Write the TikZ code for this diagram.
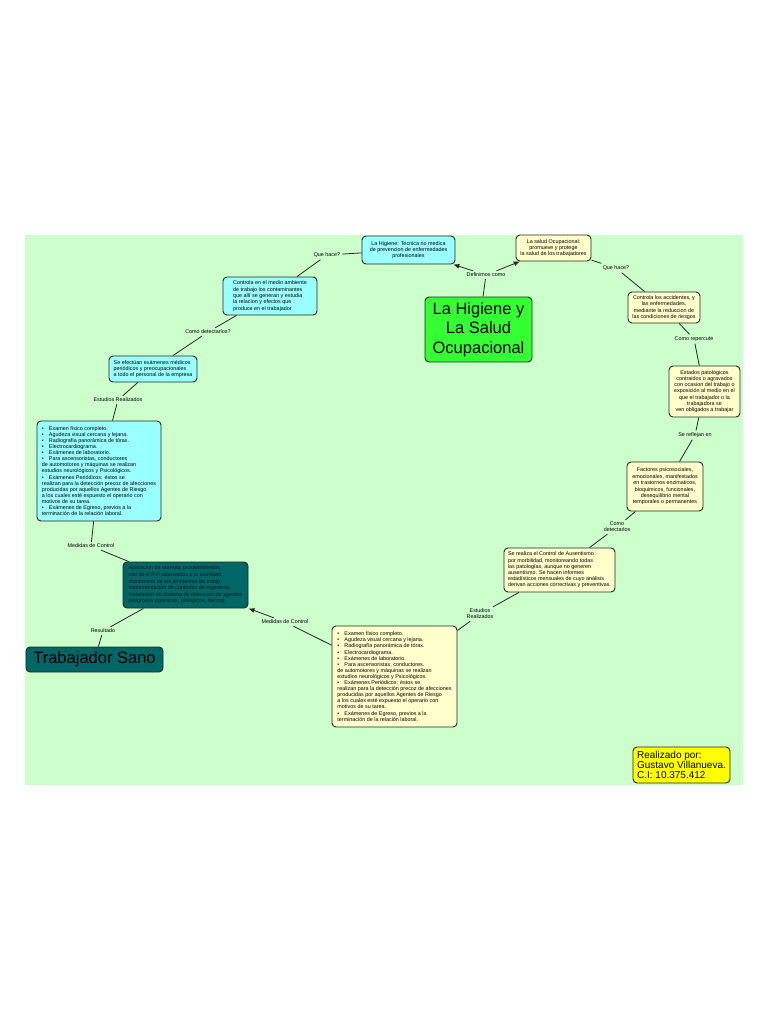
\documentclass[tikz,border=0pt]{standalone}
\usepackage{fontspec}
\setmainfont{Liberation Sans}
\usepackage{tikz}
\usetikzlibrary{arrows.meta}
\definecolor{fondo}{RGB}{204,255,204}
\definecolor{celeste}{RGB}{153,255,255}
\definecolor{crema}{RGB}{255,255,204}
\definecolor{verdec}{RGB}{51,255,51}
\definecolor{petroleo}{RGB}{0,102,102}
\definecolor{amarillo}{RGB}{255,255,0}
\newcommand{\itm}{\makebox[7pt][l]{\textbullet}}

\begin{document}
\begin{tikzpicture}[x=1pt,y=-1pt,
    caja/.style={draw=black!85,line width=0.9pt,rounded corners=4pt,inner sep=2pt,
      font=\fontsize{5.4}{6.4}\selectfont},
    lista/.style={caja,align=left,font=\fontsize{5.4}{6.1}\selectfont},
    frase/.style={font=\fontsize{5.4}{6}\selectfont,inner sep=2pt,align=center},
    enlace/.style={line width=0.8pt,black!85},
    flecha/.style={enlace,-{Latex[length=6pt,width=5pt]}}]
        \useasboundingbox (0,0) rectangle (768,1021);
        \fill[white] (0,0) rectangle (768,1021);
        \fill[fondo] (25,235) rectangle (743,785);
        % conceptos
        \node[caja,fill=verdec,minimum width=107pt,minimum height=65pt,align=center,
          font=\fontsize{16.5}{19.5}\selectfont] (central) at (478.5,329.5) {La Higiene y\\La Salud\\Ocupacional};
        \node[caja,fill=celeste,minimum width=93pt,minimum height=28pt,align=center] (higiene) at (408.5,250)
          {La Higiene: Tecnica no medica\\de prevencion de enfermedades\\profesionales};
        \node[caja,fill=crema,minimum width=75pt,minimum height=26pt,align=center] (salud) at (553.5,248)
          {La salud Ocupacional:\\promueve y protege\\la salud de los trabajadores};
        \node[caja,fill=celeste,minimum width=94pt,minimum height=38pt,align=left] (controlaA) at (270,296)
          {Controla en el medio ambiente\\de trabajo los contaminantes\\que allí se generan y estudia\\la relacion y efectos que\\produce en el trabajador};
        \node[caja,fill=celeste,minimum width=88pt,minimum height=26pt,align=left] (examenes) at (153,369)
          {Se efectúan exámenes médicos\\periódicos y preocupacionales\\a todo el personal de la empresa};
        \node[lista,fill=celeste,minimum width=124pt,minimum height=100pt] (listaA) at (99,471)
          {\itm Examen físico completo.\\
           \itm Agudeza visual cercana y lejana.\\
           \itm Radiografía panorámica de tórax.\\
           \itm Electrocardiograma.\\
           \itm Exámenes de laboratorio.\\
           \itm Para ascensoristas, conductores\\
           de automotores y máquinas se realizan\\
           estudios neurológicos y Psicológicos.\\
           \itm Exámenes Periódicos: éstos se\\
           realizan para la detección precoz de afecciones\\
           producidas por aquellos Agentes de Riesgo\\
           a los cuales esté expuesto el operario con\\
           motivos de su tarea.\\
           \itm Exámenes de Egreso, previos a la\\
           terminación de la relación laboral.};
        \node[caja,fill=petroleo,text=black!90,minimum width=125pt,minimum height=46pt,align=left,
          font=\fontsize{5.4}{6.6}\selectfont] (medidas) at (185.5,585)
          {Aplicacion de normas, procedimientos,\\uso de E.P.P. adecuados a la actividad,\\monitoreos de los ambientes de trabjo,\\implementacion de controles de ingenieria.\\Instalacion de sistema de deteccion de agentes\\peligrosos (quimicos, biologicos, fisicos)};
        \node[caja,fill=petroleo,minimum width=137pt,minimum height=25pt,
          font=\fontsize{16.5}{19}\selectfont] (sano) at (94.5,659.5) {Trabajador Sano};
        \node[lista,fill=crema,minimum width=125pt,minimum height=101pt] (listaB) at (394.5,676.5)
          {\itm Examen físico completo.\\
           \itm Agudeza visual cercana y lejana.\\
           \itm Radiografía panorámica de tórax.\\
           \itm Electrocardiograma.\\
           \itm Exámenes de laboratorio.\\
           \itm Para ascensoristas, conductores.\\
           de automotores y máquinas se realizan\\
           estudios neurológicos y Psicológicos.\\
           \itm Exámenes Periódicos: éstos se\\
           realizan para la detección precoz de afecciones\\
           producidas por aquellos Agentes de Riesgo\\
           a los cuales esté expuesto el operario con\\
           motivos de su tarea.\\
           \itm Exámenes de Egreso, previos a la\\
           terminación de la relación laboral.};
        \node[caja,fill=crema,minimum width=111pt,minimum height=44pt,align=left,
          font=\fontsize{5.4}{6.2}\selectfont] (ausentismo) at (559.5,570)
          {Se realiza el Control de Ausentismo\\por morbilidad, monitoreando todas\\las patologías, aunque no generen\\ausentismo. Se hacen informes\\estadísticos mensuales de cuyo análisis\\derivan acciones correctivas y preventivas.};
        \node[caja,fill=crema,minimum width=76pt,minimum height=49pt,align=center] (factores) at (665,486.5)
          {Factores psicosociales,\\emocionales, manifestados\\en trastornos enzimaticos,\\bioquimicos, funcionales,\\desequilibrio mental\\temporales o permanentes};
        \node[caja,fill=crema,minimum width=71pt,minimum height=51pt,align=center,
          font=\fontsize{5.4}{6.2}\selectfont] (estados) at (704.5,391.5)
          {Estados patológicos\\contraidos o agravados\\con ocasion del trabajo o\\exposición al medio en el\\que el trabajador o la\\trabajadora se\\ven obligados a trabajar};
        \node[caja,fill=crema,minimum width=72pt,minimum height=31pt,align=center] (controlaB) at (664,307.5)
          {Controla los accidentes, y\\las enfermedades,\\mediante la reduccion de\\las condiciones de riesgos};
        \node[caja,fill=amarillo,minimum width=97pt,minimum height=36pt,align=left,
          font=\fontsize{10}{10.4}\selectfont] (autor) at (681.5,765)
          {Realizado por:\\Gustavo Villanueva.\\C.I: 10.375.412};
        % frases de enlace
        \node[frase] (definimos) at (486,275) {Definimos como};
        \node[frase] (quehaceA) at (327,255) {Que hace?};
        \node[frase] (quehaceB) at (616,268) {Que hace?};
        \node[frase] (detectarA) at (208,332) {Como detectarlos?};
        \node[frase] (estudiosA) at (118,400) {Estudios Realizados};
        \node[frase] (medidasA) at (91,546) {Medidas de Control};
        \node[frase] (resultado) at (103,631) {Resultado};
        \node[frase] (medidasB) at (285,622) {Medidas de Control};
        \node[frase] (estudiosB) at (480,614) {Estudios\\Realizados};
        \node[frase] (detectarB) at (617,527) {Como\\detectarlos};
        \node[frase] (reflejan) at (695,435) {Se reflejan en};
        \node[frase] (repercute) at (694,339) {Como repercute};
        % conexiones
        \draw[enlace] (central) -- (definimos);
        \draw[flecha] (definimos) -- (higiene);
        \draw[flecha] (definimos) -- (salud);
        \draw[enlace] (higiene) -- (quehaceA);
        \draw[enlace] (quehaceA) -- (controlaA);
        \draw[enlace] (controlaA) -- (detectarA);
        \draw[enlace] (detectarA) -- (examenes);
        \draw[enlace] (examenes) -- (estudiosA);
        \draw[enlace] (estudiosA) -- (listaA);
        \draw[enlace] (listaA) -- (medidasA);
        \draw[enlace] (medidasA) -- (medidas);
        \draw[enlace] (medidas) -- (resultado);
        \draw[enlace] (resultado) -- (sano);
        \draw[enlace] (salud) -- (quehaceB);
        \draw[enlace] (quehaceB) -- (controlaB);
        \draw[enlace] (controlaB) -- (repercute);
        \draw[enlace] (repercute) -- (estados);
        \draw[enlace] (estados) -- (reflejan);
        \draw[enlace] (reflejan) -- (factores);
        \draw[enlace] (factores) -- (detectarB);
        \draw[enlace] (detectarB) -- (ausentismo);
        \draw[enlace] (ausentismo) -- (estudiosB);
        \draw[enlace] (estudiosB) -- (listaB);
        \draw[enlace] (listaB) -- (medidasB);
        \draw[flecha] (medidasB) -- (medidas);
      \end{tikzpicture}
\end{document}
